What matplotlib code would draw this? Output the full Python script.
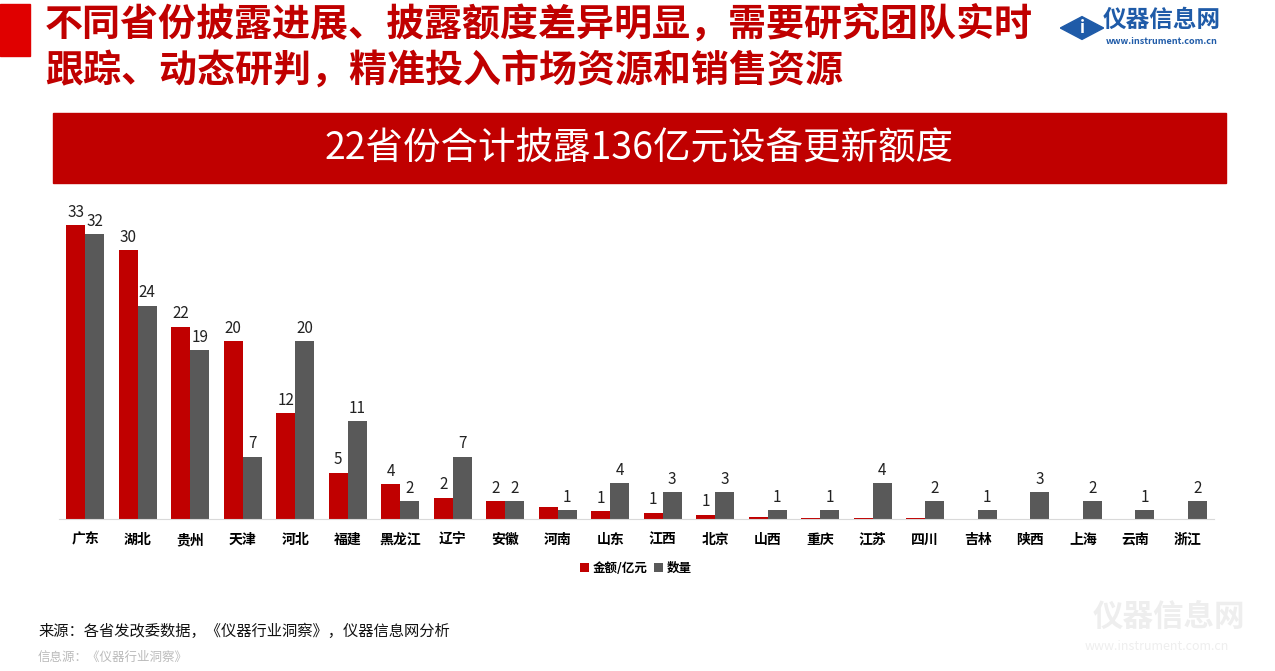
import matplotlib.pyplot as plt
import matplotlib.patches as mpatches
import numpy as np

plt.rcParams['font.family'] = ['Noto Sans CJK SC', 'DejaVu Sans']

# data
provinces = ['广东', '湖北', '贵州', '天津', '河北', '福建', '黑龙江', '辽宁', '安徽', '河南', '山东',
             '江西', '北京', '山西', '重庆', '江苏', '四川', '吉林', '陕西', '上海', '云南', '浙江']
amount = [33.0, 30.2, 21.6, 20.0, 11.9, 5.2, 3.9, 2.4, 2.0, 1.3, 0.9,
          0.7, 0.5, 0.2, 0.1, 0.1, 0.1, 0.0, 0.0, 0.0, 0.0, 0.0]
amount_labels = ['33', '30', '22', '20', '12', '5', '4', '2', '2', '', '1',
                 '1', '1', '', '', '', '', '', '', '', '', '']
count = [32, 24, 19, 7, 20, 11, 2, 7, 2, 1, 4, 3, 3, 1, 1, 4, 2, 1, 3, 2, 1, 2]

title_1 = '不同省份披露进展、披露额度差异明显，需要研究团队实时'
title_2 = '跟踪、动态研判，精准投入市场资源和销售资源'
banner = '22省份合计披露136亿元设备更新额度'
source = '来源：各省发改委数据，《仪器行业洞察》，仪器信息网分析'
source2 = '信息源：《仪器行业洞察》'

RED = '#C00000'
GRAY = '#595959'

W, H = 1275, 671
fig = plt.figure(figsize=(W / 100, H / 100), dpi=100)


def fx(px):
    return px / W


def fy(py):
    return 1 - py / H


# header
fig.patches.append(mpatches.Rectangle((0, fy(56)), fx(30), fy(4) - fy(56),
                                      transform=fig.transFigure, color='#E00000'))
fig.text(fx(45), fy(24), title_1, fontsize=27.4, fontweight='bold', color=RED, va='center')
fig.text(fx(45), fy(71), title_2, fontsize=27.4, fontweight='bold', color=RED, va='center')

# logo
fig.patches.append(mpatches.RegularPolygon((fx(1082), fy(28)), 4, radius=0.017,
                                           transform=fig.transFigure, color='#1F5BA8'))
fig.text(fx(1082), fy(28), 'i', fontsize=12, color='white', ha='center', va='center',
         fontweight='bold', style='italic')
fig.text(fx(1103), fy(20), '仪器信息网', fontsize=17, fontweight='bold', color='#1F5BA8',
         va='center')
fig.text(fx(1106), fy(42), 'www.instrument.com.cn', fontsize=6.5, color='#1F5BA8', va='center',
         fontweight='bold')

# banner
fig.patches.append(mpatches.Rectangle((fx(53), fy(183)), fx(1226 - 53), fy(113) - fy(183),
                                      transform=fig.transFigure, color=RED))
fig.text(fx(639), fy(149), banner, fontsize=27, color='white', ha='center', va='center')

# chart
ax = fig.add_axes([fx(59), fy(519), fx(1214 - 59), fy(205) - fy(519)])
x = np.arange(len(provinces))
w = 0.36
ax.bar(x - w / 2, amount, w, color=RED, label='金额/亿元')
ax.bar(x + w / 2, count, w, color=GRAY, label='数量')
for i in range(len(provinces)):
    if amount_labels[i]:
        ax.text(x[i] - w / 2, amount[i] + 0.5, amount_labels[i], ha='center', va='bottom',
                fontsize=11, color='#222222')
    ax.text(x[i] + w / 2, count[i] + 0.5, str(count[i]), ha='center', va='bottom',
            fontsize=11, color='#222222')
ax.set_xlim(-0.5, 21.5)
ax.set_ylim(0, 35.3)
ax.set_xticks(x)
ax.set_xticklabels(provinces, fontsize=10, fontweight='bold')
ax.tick_params(axis='x', length=0, pad=10)
ax.set_yticks([])
for s in ['top', 'right', 'left']:
    ax.spines[s].set_visible(False)
ax.spines['bottom'].set_color('#D9D9D9')
ax.patch.set_alpha(0)

fig.legend(loc='center', bbox_to_anchor=(fx(636), fy(568)), ncol=2, frameon=False,
           handlelength=0.7, handleheight=0.7, handletextpad=0.3, columnspacing=0.5,
           prop={'size': 9, 'weight': 'bold'})

# footer
fig.text(fx(38), fy(631), source, fontsize=11, color='#111111', va='center')
fig.text(fx(38), fy(657), source2, fontsize=9, color='#BBBBBB', va='center', style='italic')

# watermark
fig.text(fx(1093), fy(617), '仪器信息网', fontsize=22, fontweight='bold', color='#EEEEEE',
         va='center', style='italic')
fig.text(fx(1085), fy(647), 'www.instrument.com.cn', fontsize=9, color='#EEEEEE',
         va='center', style='italic')

fig.savefig('out.png', dpi=100)
